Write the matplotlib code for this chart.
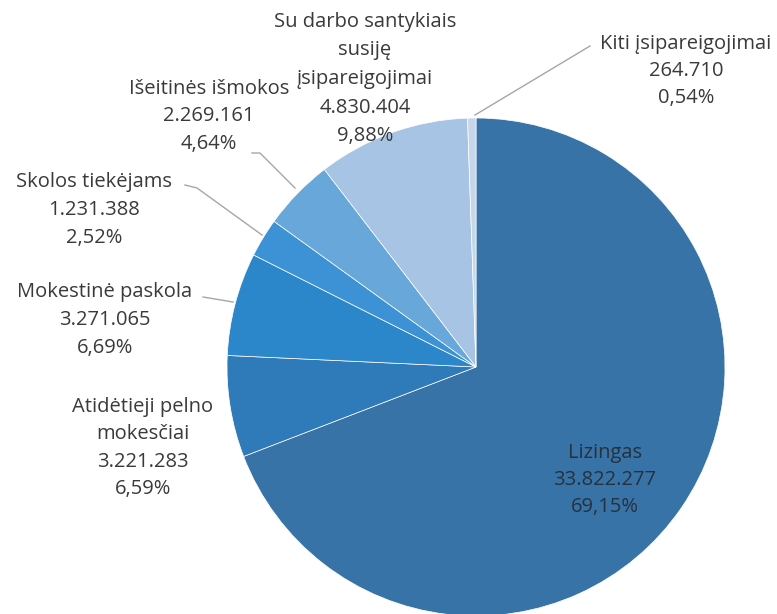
import matplotlib.pyplot as plt

labels = ['Lizingas', 'Atidėtieji pelno\nmokesčiai', 'Mokestinė paskola', 'Skolos tiekėjams',
          'Išeitinės išmokos', 'Su darbo santykiais\nsusiję\nįsipareigojimai', 'Kiti įsipareigojimai']
values = [33822277, 3221283, 3271065, 1231388, 2269161, 4830404, 264710]
value_text = ['33.822.277', '3.221.283', '3.271.065', '1.231.388', '2.269.161', '4.830.404', '264.710']
pct_text = ['69,15%', '6,59%', '6,69%', '2,52%', '4,64%', '9,88%', '0,54%']

colors = ['#3773a7', '#2f7ab8', '#2b86ca', '#3c92d4', '#67a7da', '#a8c4e4', '#c6d7ea']

# label centres and leader lines, in pixel coords of the image
label_pos = [(605, 480), (143, 448), (105, 320), (94, 210), (209, 116), (365, 79), (686, 71)]
spacing = [1.45, 1.5, 1.5, 1.5, 1.5, 1.58, 1.5]
leaders = [None, None,
           [(203, 297), (233, 302)],
           [(185, 185), (197, 188), (262, 235)],
           [(252, 153), (260, 153), (295, 188)],
           None,
           [(590, 46), (475, 115)]]

fig = plt.figure(figsize=(7.77, 6.14), dpi=100)
ax = fig.add_axes([0, 0, 1, 1])

# y inverted, so angles run the other way
ax.pie(values, colors=colors, startangle=-90, counterclock=True,
       center=(476, 367), radius=249, frame=True,
       wedgeprops=dict(edgecolor='white', linewidth=0.5))
ax.set_xlim(0, 777)
ax.set_ylim(614, 0)
ax.set_aspect('equal')
ax.axis('off')

for i in range(len(labels)):
    txt = labels[i] + '\n' + value_text[i] + '\n' + pct_text[i]
    col = '#26313d' if i == 0 else '#3a3a3a'
    ax.text(label_pos[i][0], label_pos[i][1], txt, ha='center', va='center',
            multialignment='center', fontsize=14.5, family='Open Sans', color=col,
            linespacing=spacing[i])
    if leaders[i]:
        xs = [p[0] for p in leaders[i]]
        ys = [p[1] for p in leaders[i]]
        ax.plot(xs, ys, color='#a6a6a6', lw=1)

fig.savefig('out.png', dpi=100)
